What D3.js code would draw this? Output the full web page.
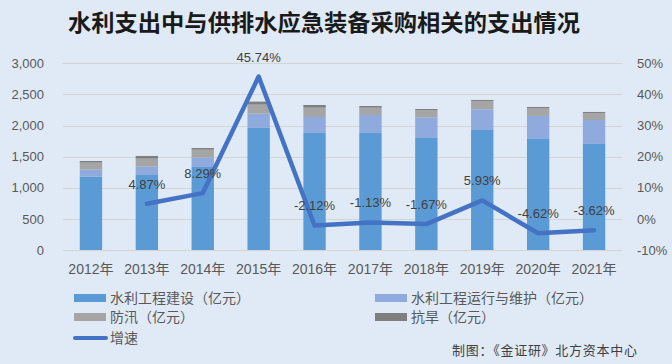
<!DOCTYPE html>
<html><head><meta charset="utf-8">
<script src="https://cdn.jsdelivr.net/npm/d3@7"></script>
<style>
html,body{margin:0;padding:0;background:#dfeaf6;}
svg{display:block;font-family:"Liberation Sans","Noto Sans CJK SC",sans-serif;}
</style></head><body>
<svg id="chart" width="672" height="364"></svg>
<script>
const years = ["2012年","2013年","2014年","2015年","2016年","2017年","2018年","2019年","2020年","2021年"];
const construction = [1179,1205,1334,1961,1880,1880,1800,1929,1784,1704];
const operation = [112,134,150,230,257,290,332,332,370,385];
const flood = [113,129,128,145,150,117,118,134,128,113];
const drought = [26,43,27,48,43,27,16,16,16,16];
const growth = [null,4.87,8.29,45.74,-2.12,-1.13,-1.67,5.93,-4.62,-3.62];
const leftTicks = [0,500,1000,1500,2000,2500,3000];
const rightTicks = [-10,0,10,20,30,40,50];
const seriesNames = ["水利工程建设（亿元）","水利工程运行与维护（亿元）","防汛（亿元）","抗旱（亿元）"];
const lineName = "增速";
const colors = ["#5b9bd5","#8faadc","#a5a5a5","#7f7f7f"];
const lineColor = "#4472c4";

const svg = d3.select("#chart");
svg.append("rect").attr("width",672).attr("height",364).attr("fill","#dfeaf6");

const L=63, R=622, T=63.3, B=250;
const x = d3.scaleBand().domain(years).range([L,R]).paddingInner(0.6).paddingOuter(0.3);
const y = d3.scaleLinear().domain([0,3000]).range([B,T]);
const y2 = d3.scaleLinear().domain([-10,50]).range([B,T]);

// title
svg.append("text").attr("x",68).attr("y",31).attr("font-size",23).attr("font-weight","bold")
  .attr("fill","#1a1a1a").attr("font-family","'Noto Sans CJK SC',sans-serif")
  .attr("textLength",512).attr("lengthAdjust","spacingAndGlyphs")
  .text("水利支出中与供排水应急装备采购相关的支出情况");

// gridlines
svg.append("g").selectAll("line").data(leftTicks).join("line")
  .attr("x1",L).attr("x2",R).attr("y1",d=>Math.round(y(d))+0.5).attr("y2",d=>Math.round(y(d))+0.5)
  .attr("stroke","#d4d4d4").attr("stroke-width",1);

// left axis
const la = svg.append("g").attr("transform",`translate(${L},0)`)
  .call(d3.axisLeft(y).tickValues(leftTicks).tickSize(0).tickPadding(19).tickFormat(d3.format(",")));
la.select(".domain").remove();
la.selectAll("text").attr("font-size",13).attr("fill","#595959").attr("font-family","'Liberation Sans',sans-serif");

// right axis
const ra = svg.append("g").attr("transform",`translate(${R},0)`)
  .call(d3.axisRight(y2).tickValues(rightTicks).tickSize(0).tickPadding(15).tickFormat(d=>d+"%"));
ra.select(".domain").remove();
ra.selectAll("text").attr("font-size",13).attr("fill","#595959").attr("font-family","'Liberation Sans',sans-serif");

// stacked bars
const rows = years.map((yr,i)=>({year:yr,a:construction[i],b:operation[i],c:flood[i],d:drought[i]}));
const stack = d3.stack().keys(["a","b","c","d"])(rows);
svg.append("g").selectAll("g").data(stack).join("g").attr("fill",(d,i)=>colors[i])
  .selectAll("rect").data(d=>d).join("rect")
  .attr("x",d=>x(d.data.year)).attr("width",x.bandwidth())
  .attr("y",d=>y(d[1])).attr("height",d=>y(d[0])-y(d[1]));

// x labels
svg.append("g").selectAll("text").data(years).join("text")
  .attr("x",d=>x(d)+x.bandwidth()/2).attr("y",274).attr("text-anchor","middle")
  .attr("font-size",14).attr("fill","#595959").text(d=>d);

// growth line
const pts = years.map((yr,i)=>({year:yr,v:growth[i]})).filter(d=>d.v!==null);
const line = d3.line().x(d=>x(d.year)+x.bandwidth()/2).y(d=>y2(d.v));
svg.append("path").datum(pts).attr("d",line).attr("fill","none")
  .attr("stroke",lineColor).attr("stroke-width",4.5).attr("stroke-linejoin","round").attr("stroke-linecap","round");
svg.append("g").selectAll("text").data(pts).join("text")
  .attr("x",d=>x(d.year)+x.bandwidth()/2).attr("y",d=>y2(d.v)-15)
  .attr("text-anchor","middle").attr("font-size",13).attr("fill","#404040")
  .attr("font-family","'Liberation Sans',sans-serif")
  .text(d=>d.v.toFixed(2)+"%");

// legend
const leg = svg.append("g").attr("font-size",14).attr("fill","#595959");
const legPos = [[74,294],[375,294],[74,313],[375,313]];
seriesNames.forEach((n,i)=>{
  leg.append("rect").attr("x",legPos[i][0]).attr("y",legPos[i][1]).attr("width",32).attr("height",8).attr("fill",colors[i]);
  leg.append("text").attr("x",legPos[i][0]+36).attr("y",legPos[i][1]+9).attr("fill","#595959").text(n);
});
leg.append("line").attr("x1",75).attr("x2",106).attr("y1",338).attr("y2",338)
  .attr("stroke",lineColor).attr("stroke-width",4).attr("stroke-linecap","round");
leg.append("text").attr("x",110).attr("y",343).attr("fill","#595959").text(lineName);

// source
svg.append("text").attr("x",452).attr("y",355).attr("font-size",13).attr("fill","#404040")
  .attr("textLength",185).attr("lengthAdjust","spacing")
  .text("制图：《金证研》北方资本中心");
</script>
</body></html>
